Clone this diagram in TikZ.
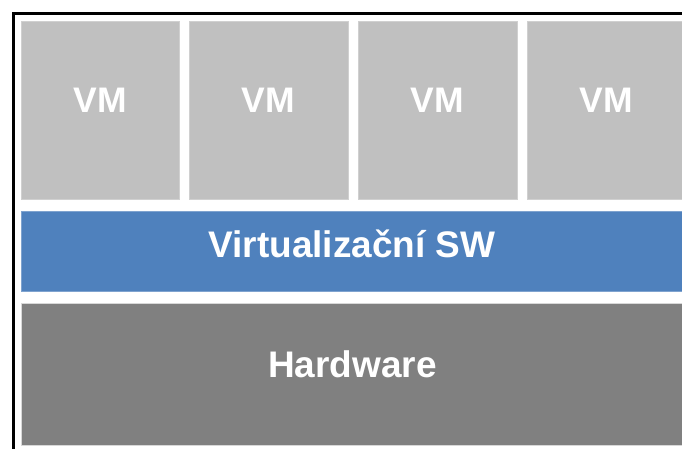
\documentclass[tikz,border=0pt]{standalone}
\usepackage{fontspec}
\setmainfont{Liberation Sans}
\definecolor{vmgray}{HTML}{C0C0C0}
\definecolor{vmedge}{HTML}{D0D0D0}
\definecolor{swblue}{HTML}{4F81BD}
\definecolor{swedge}{HTML}{7FA3CF}
\definecolor{hwgray}{HTML}{808080}
\definecolor{hwedge}{HTML}{D8D8D8}
\begin{document}
\begin{tikzpicture}[x=1pt,y=-1pt,
  box/.style={rectangle,inner sep=0pt,outer sep=0pt,line width=0.8pt},
  vmbox/.style={box,fill=vmgray,draw=vmedge},
  swbox/.style={box,fill=swblue,draw=swedge},
  hwbox/.style={box,fill=hwgray,draw=hwedge},
  lbl/.style={anchor=base,text=white,font=\bfseries\fontsize{37}{42}\selectfont,inner sep=0pt},
  vmlbl/.style={lbl,font=\bfseries\fontsize{35.5}{40}\selectfont}]
\useasboundingbox (0,0) rectangle (682,449);
\clip (0,0) rectangle (682,449);
\fill[white] (0,0) rectangle (682,449);
% VM boxes
\node[vmbox,minimum width=158pt,minimum height=178pt] (vm1) at (100,110) {};
\node[vmbox,minimum width=159pt,minimum height=178pt] (vm2) at (268.5,110) {};
\node[vmbox,minimum width=159pt,minimum height=178pt] (vm3) at (437.5,110) {};
\node[vmbox,minimum width=159pt,minimum height=178pt] (vm4) at (606.5,110) {};
\node[vmlbl] (t1) at (100,113) {VM};
\node[vmlbl] (t2) at (268.5,113) {VM};
\node[vmlbl] (t3) at (437.5,113) {VM};
\node[vmlbl] (t4) at (606.5,113) {VM};
% virtualization layer
\node[swbox,minimum width=690pt,minimum height=80pt] (sw) at (366,251) {};
\node[lbl] (swt) at (352,257) {Virtualizační SW};
% hardware
\node[hwbox,minimum width=690pt,minimum height=142pt] (hw) at (366,374) {};
\node[lbl] (hwt) at (352.5,377) {Hardware};
% frame
\coordinate (fb) at (13.5,460);
\coordinate (fc) at (13.5,13.5);
\coordinate (fr) at (700,13.5);
\draw[line width=3pt] (fb) -- (fc) -- (fr);
\end{tikzpicture}
\end{document}
